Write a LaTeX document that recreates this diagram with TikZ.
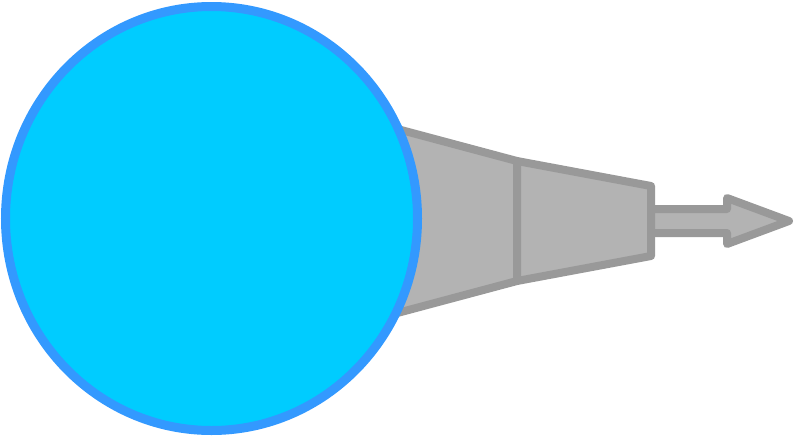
\documentclass[tikz,border=0pt]{standalone}
\usetikzlibrary{shapes.geometric}
\definecolor{bodyfill}{HTML}{00CCFF}
\definecolor{bodyline}{HTML}{3399FF}
\definecolor{tubefill}{HTML}{B3B3B3}
\definecolor{tubeline}{HTML}{999999}
\tikzset{
  tube/.style={fill=tubefill, draw=tubeline, line width=8pt, line join=round, line cap=round},
  body/.style={fill=bodyfill, draw=bodyline, line width=9pt}
}
\begin{document}
\begin{tikzpicture}[x=1pt,y=-1pt]
\useasboundingbox (0,0) rectangle (795,437);
% first section of the tube (partly behind the ball)
\draw[tube] (330,111) -- (517,161) -- (517,281) -- (330,331) -- cycle;
% second section
\draw[tube] (517,161) -- (651,186) -- (651,256) -- (517,281) -- cycle;
% arrow
\draw[tube] (651,209) -- (727,209) -- (727,198) -- (789,221) -- (727,244) -- (727,233) -- (651,233) -- cycle;
% ball
\draw[body] (211.5,218.5) ellipse [x radius=206, y radius=212];
\end{tikzpicture}
\end{document}
